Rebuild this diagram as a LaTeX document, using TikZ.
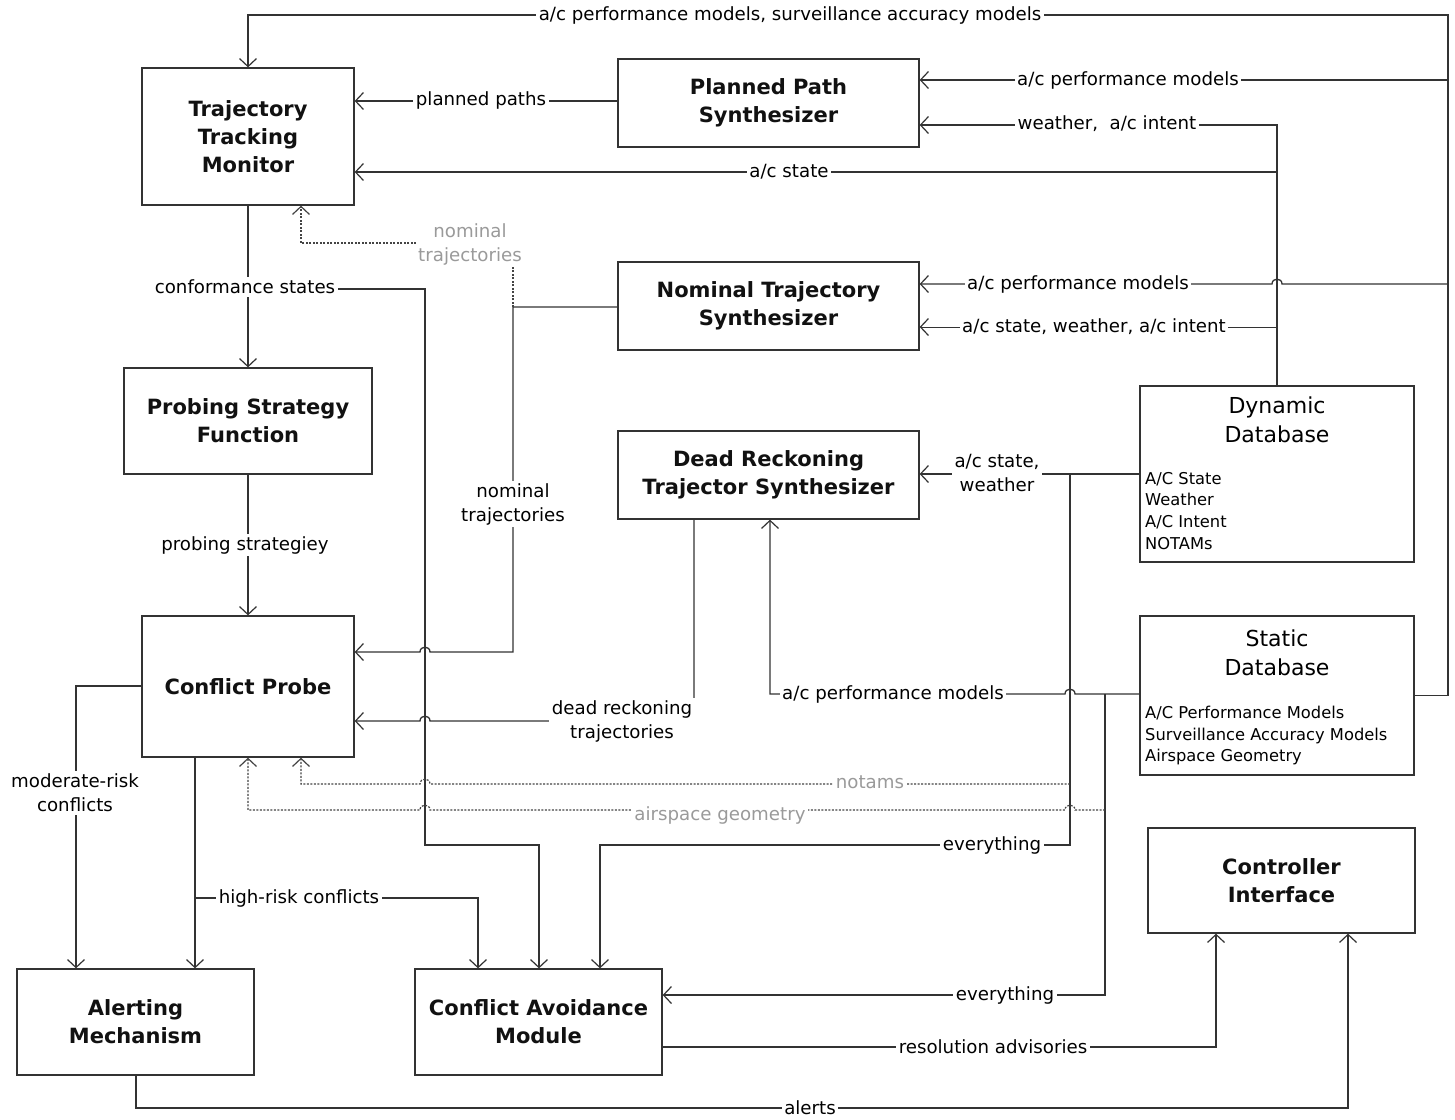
\documentclass[tikz,border=0pt]{standalone}
\usepackage{fontspec}
\setmainfont{DejaVu Sans}
\usetikzlibrary{arrows.meta}
\newcommand\ttlfont{\bfseries\fontsize{21}{28}\selectfont}
\newcommand\dbfont{\fontsize{22}{29.5}\selectfont}
\newcommand\lblfont{\fontsize{18.2}{24}\selectfont}
\newcommand\lstfont{\fontsize{16.3}{21.6}\selectfont}
\definecolor{ln}{HTML}{333333}
\definecolor{gtxt}{HTML}{9A9A9A}
\definecolor{dln}{HTML}{444444}
\definecolor{ttl}{HTML}{111111}
\begin{document}
\begin{tikzpicture}[x=1pt,y=-1pt,
  box/.style={draw=ln, line width=1.3pt, rectangle, align=center, font=\ttlfont, text=ttl, inner sep=0pt},
  arr/.style={draw=ln, line width=1.3pt, -{Straight Barb[length=8pt,width=17pt,line width=1.2pt]}},
  dot/.style={draw=dln, line width=1.2pt, dash pattern=on 2pt off 1.5pt, -{Straight Barb[length=8pt,width=17pt,line width=1.2pt,sep=0pt]}},
  lbl/.style={fill=white, inner sep=2.5pt, font=\lblfont, align=center, text=black},
  glbl/.style={fill=white, inner sep=2.5pt, font=\lblfont, align=center, text=gtxt},
]
\useasboundingbox (0,0) rectangle (1455,1119);
\fill[white] (0,0) rectangle (1455,1119);

% boxes
\node[box, minimum width=212pt, minimum height=137pt] (TTM) at (248,136.5) {Trajectory\\Tracking\\Monitor};
\node[box, minimum width=301pt, minimum height=88pt] (PPS) at (768.5,103) {Planned Path\\Synthesizer};
\node[box, minimum width=301pt, minimum height=88pt] (NTS) at (768.5,306) {Nominal Trajectory\\Synthesizer};
\node[box, minimum width=248pt, minimum height=106pt] (PSF) at (248,421) {Probing Strategy\\Function};
\node[box, minimum width=301pt, minimum height=88pt] (DRTS) at (768.5,475) {Dead Reckoning\\Trajector Synthesizer};
\node[box, minimum width=274pt, minimum height=176pt] (DynDB) at (1277,474) {};
\node[box, minimum width=274pt, minimum height=159pt] (StatDB) at (1277,695.5) {};
\node[box, minimum width=212pt, minimum height=141pt] (CP) at (248,686.5) {Conflict Probe};
\node[box, minimum width=267pt, minimum height=105pt] (CI) at (1281.5,880.5) {Controller\\Interface};
\node[box, minimum width=237pt, minimum height=106pt] (AM) at (135.5,1022) {Alerting\\Mechanism};
\node[box, minimum width=247pt, minimum height=106pt] (CAM) at (538.5,1022) {Conflict Avoidance\\Module};

\node[font=\dbfont, align=center, anchor=north] (DynT) at (1277,393) {Dynamic\\Database};
\node[font=\lstfont, align=left, anchor=north west, inner sep=0pt] (DynL) at (1145,472) {A/C State\\Weather\\A/C Intent\\NOTAMs};
\node[font=\dbfont, align=center, anchor=north] (StatT) at (1277,626) {Static\\Database};
\node[font=\lstfont, align=left, anchor=north west, inner sep=0pt] (StatL) at (1145,706) {A/C Performance Models\\Surveillance Accuracy Models\\Airspace Geometry};

% connectors
\draw[arr] (StatDB.east) -| (1448,15) -| (TTM.north);
\draw[arr] (1448,80) -- (PPS.east |- 0,80);
\draw[arr] (1448,284) -- (1282,284) .. controls (1282,277.5) and (1272,277.5) .. (1272,284) -- (NTS.east |- 0,284);
\draw[arr] (DynDB.north) -- (1277,125) -- (PPS.east |- 0,125);
\draw[arr] (1277,172) -- (TTM.east |- 0,172);
\draw[arr, line width=0.8pt] (1277,327) -- (NTS.east |- 0,327);
\draw[arr] (PPS.west |- 0,101) -- (TTM.east |- 0,101);
\draw[arr] (NTS.west |- 0,307) -- (513,307) -- (513,652) -- (430,652) .. controls (430,645.5) and (420,645.5) .. (420,652) -- (CP.east |- 0,652);
\draw[dot] (513,307) -- (513,243) -- (301,243) -- (TTM.south -| 301,0);
\draw[arr] (TTM.south) -- (PSF.north);
\draw[arr] (248,289) -- (425,289) -- (425,845) -- (539,845) -- (CAM.north -| 539,0);
\draw[arr] (PSF.south) -- (CP.north);
\draw[arr] (DRTS.south -| 694,0) -- (694,721) -- (430,721) .. controls (430,714.5) and (420,714.5) .. (420,721) -- (CP.east |- 0,721);
\draw[arr] (DynDB.west) -- (DynDB.west -| DRTS.east);
\draw[arr] (1070,474) -- (1070,845) -- (600,845) -- (CAM.north -| 600,0);
\draw[arr] (StatDB.west |- 0,694) -- (1075,694) .. controls (1075,687.5) and (1065,687.5) .. (1065,694) -- (770,694) -- (DRTS.south -| 770,0);
\draw[arr] (1105,694) -- (1105,995) -- (CAM.east |- 0,995);
\draw[arr] (CAM.east |- 0,1047) -- (1216,1047) -- (CI.south -| 1216,0);
\draw[arr] (AM.south -| 136,0) -- (136,1108) -- (1348,1108) -- (CI.south -| 1348,0);
\draw[arr] (CP.west |- 0,686) -- (76,686) -- (AM.north -| 76,0);
\draw[arr] (CP.south -| 195,0) -- (AM.north -| 195,0);
\draw[arr] (195,898) -- (478,898) -- (CAM.north -| 478,0);
\draw[dot] (1070,784) -- (430,784) .. controls (430,777.5) and (420,777.5) .. (420,784) -- (301,784) -- (CP.south -| 301,0);
\draw[dot] (1105,810) -- (1075,810) .. controls (1075,803.5) and (1065,803.5) .. (1065,810) -- (430,810) .. controls (430,803.5) and (420,803.5) .. (420,810) -- (248,810) -- (CP.south);

% labels
\node[lbl] (l1) at (790,15) {a/c performance models, surveillance accuracy models};
\node[lbl] (l2) at (481,100) {planned paths};
\node[lbl] (l3) at (1128,80) {a/c performance models};
\node[lbl] (l4) at (1107,124) {weather,\ \ a/c intent};
\node[lbl] (l5) at (789,172) {a/c state};
\node[lbl] (l6) at (1078,284) {a/c performance models};
\node[lbl] (l7) at (1094,327) {a/c state, weather, a/c intent};
\node[glbl] (l8) at (470,244) {nominal\\trajectories};
\node[lbl] (l9) at (245,287) {conformance states};
\node[lbl] (l10) at (513,504) {nominal\\trajectories};
\node[lbl] (l11) at (997,473) {a/c state,\\weather};
\node[lbl] (l12) at (245,545) {probing strategiey};
\node[lbl] (l13) at (622,721) {dead reckoning\\trajectories};
\node[lbl] (l14) at (893,694) {a/c performance models};
\node[glbl] (l15) at (870,782) {notams};
\node[glbl] (l16) at (720,815) {airspace geometry};
\node[lbl] (l17) at (992,845) {everything};
\node[lbl] (l18) at (75,793) {moderate-risk\\conflicts};
\node[lbl] (l19) at (299,898) {high-risk conflicts};
\node[lbl] (l20) at (1005,995) {everything};
\node[lbl] (l21) at (993,1047) {resolution advisories};
\node[lbl] (l22) at (810,1108) {alerts};
\end{tikzpicture}
\end{document}
